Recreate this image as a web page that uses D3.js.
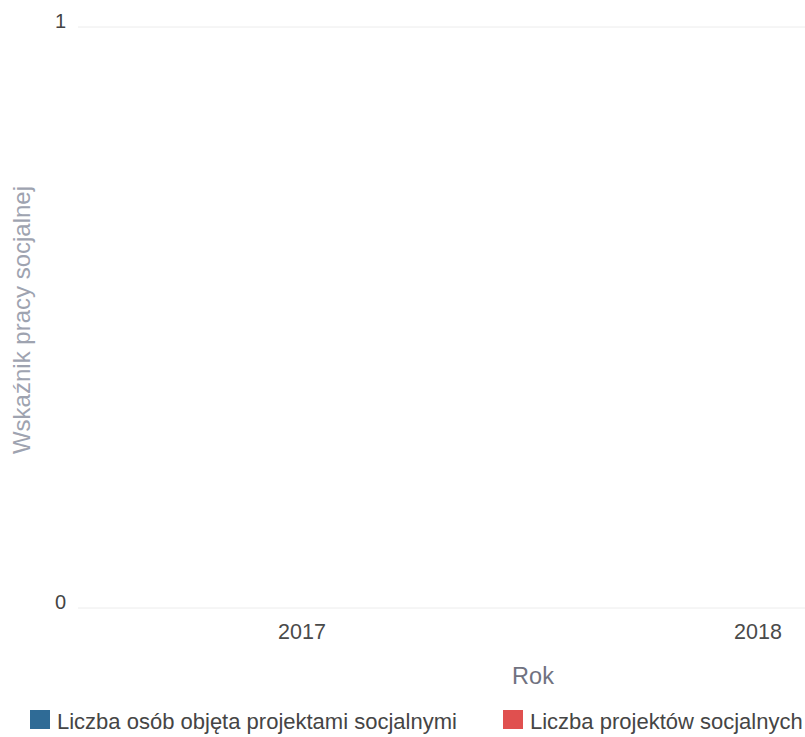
<!DOCTYPE html>
<html>
<head>
<meta charset="utf-8">
<script src="https://cdn.jsdelivr.net/npm/d3@7"></script>
<style>
  body { margin: 0; background: #fff; }
  text { font-family: "Liberation Sans", Arial, sans-serif; }
</style>
</head>
<body>
<div id="chart"></div>
<script>
// data (both series are empty / zero)
var years = [2017, 2018]
var osoby = [0, 0]
var projekty = [0, 0]
var seriesNames = ["Liczba osób objęta projektami socjalnymi", "Liczba projektów socjalnych"]
var seriesColors = ["#2f6b96", "#e0504f"]
var yTicks = [0, 1]

var width = 805
var height = 737
var margin = {left: 78, right: 0, top: 27, bottom: 129}

var svg = d3.select("#chart").append("svg")
  .attr("width", width).attr("height", height)

var xScale = d3.scaleLinear().domain([2016.509, 2018.103]).range([margin.left, width - margin.right])
var yScale = d3.scaleLinear().domain([0, 1]).range([height - margin.bottom, margin.top])

// grid lines
svg.selectAll(".grid")
  .data(yTicks)
  .enter().append("line")
  .attr("class", "grid")
  .attr("x1", margin.left).attr("x2", width)
  .attr("y1", function(d){ return yScale(d) })
  .attr("y2", function(d){ return yScale(d) })
  .attr("stroke", "#ececec")
  .attr("stroke-width", 1)

// y tick labels
svg.selectAll(".ytick")
  .data(yTicks)
  .enter().append("text")
  .attr("class", "ytick")
  .attr("x", 66)
  .attr("y", function(d){ return yScale(d) })
  .attr("dy", "0.05em")
  .attr("text-anchor", "end")
  .attr("font-size", "20px")
  .attr("fill", "#444")
  .text(function(d){ return d })

// x tick labels
svg.selectAll(".xtick")
  .data(years)
  .enter().append("text")
  .attr("class", "xtick")
  .attr("x", function(d){ return xScale(d) })
  .attr("y", 639)
  .attr("text-anchor", "middle")
  .attr("font-size", "21.5px")
  .attr("fill", "#4a4a4a")
  .text(function(d){ return d })

// bars (zero height)
var bw = 40
var groups = [osoby, projekty]
groups.forEach(function(vals, k){
  svg.selectAll(".bar" + k)
    .data(vals)
    .enter().append("rect")
    .attr("class", "bar" + k)
    .attr("x", function(d, i){ return xScale(years[i]) - bw + k * bw })
    .attr("width", bw)
    .attr("y", function(d){ return yScale(d) })
    .attr("height", function(d){ return yScale(0) - yScale(d) })
    .attr("fill", seriesColors[k])
})

// axis titles
svg.append("text")
  .attr("x", 533).attr("y", 684)
  .attr("text-anchor", "middle")
  .attr("font-size", "23.5px")
  .attr("fill", "#70727f")
  .text("Rok")

svg.append("text")
  .attr("transform", "translate(30,320) rotate(-90)")
  .attr("text-anchor", "middle")
  .attr("font-size", "24px")
  .attr("fill", "#9ea3b0")
  .text("Wskaźnik pracy socjalnej")

// legend
var legX = [30, 503]
seriesNames.forEach(function(name, k){
  svg.append("rect")
    .attr("x", legX[k]).attr("y", 710)
    .attr("width", 20).attr("height", 19)
    .attr("fill", seriesColors[k])
  svg.append("text")
    .attr("x", legX[k] + 27).attr("y", 729)
    .attr("font-size", "22px")
    .attr("fill", "#454545")
    .text(name)
})
</script>
</body>
</html>
